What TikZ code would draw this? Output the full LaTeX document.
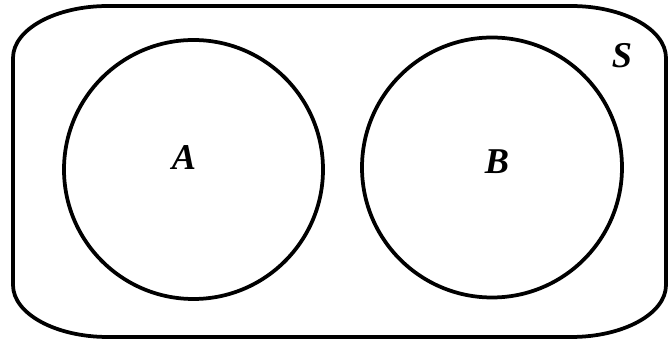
\documentclass[tikz,border=0pt]{standalone}
\usepackage{fontspec}
\setmainfont{Liberation Serif}
\begin{document}
\begin{tikzpicture}[x=0.03cm,y=0.03cm,line width=3.2pt,
  setlabel/.style={font=\fontsize{31}{33}\selectfont\bfseries\itshape}]
  \useasboundingbox (0,0) rectangle (669,343);
  % outer set S
  \draw (13,285) -- (13,58)
    arc[start angle=180,end angle=270,x radius=95,y radius=52] -- (571,6)
    arc[start angle=270,end angle=360,x radius=95,y radius=52] -- (666,285)
    arc[start angle=0,end angle=90,x radius=95,y radius=52] -- (108,337)
    arc[start angle=90,end angle=180,x radius=95,y radius=52] -- cycle;
  % sets A and B
  \draw (193.5,173.5) circle[radius=129.5];
  \draw (492,175.5) circle[radius=130];
  \node[setlabel] (labA) at (184,185) {A};
  \node[setlabel] (labB) at (497,181) {B};
  \node[setlabel] (labS) at (622,287) {S};
\end{tikzpicture}
\end{document}
